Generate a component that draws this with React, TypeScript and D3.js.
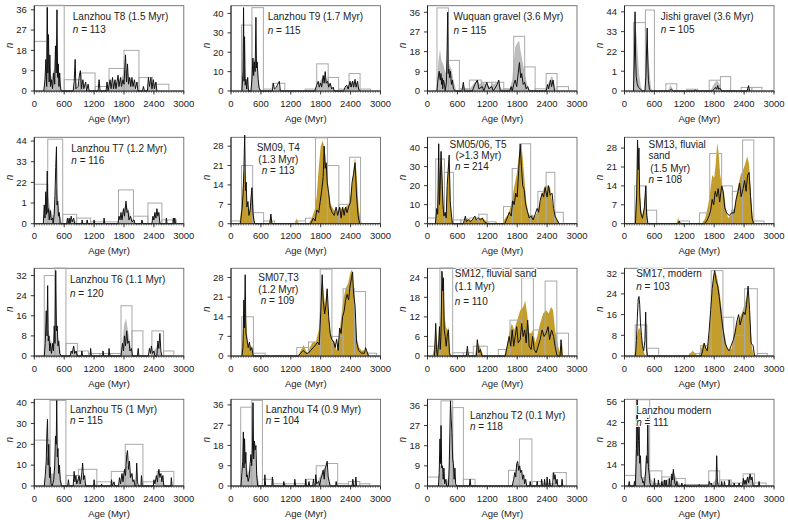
import React from 'react'
import * as d3 from 'd3'

type Pt = [number, number]
type Bin = [number, number, number]

// ---- panel text ----
const panelTitles: string[][] = [
  ['Lanzhou T8 (1.5 Myr)'],
  ['Lanzhou T9 (1.7 Myr)'],
  ['Wuquan gravel (3.6 Myr)'],
  ['Jishi gravel (3.6 Myr)'],
  ['Lanzhou T7 (1.2 Myr)'],
  ['SM09, T4', '(1.3 Myr)'],
  ['SM05/06, T5', '(>1.3 Myr)'],
  ['SM13, fluvial', 'sand', '(1.5 Myr)'],
  ['Lanzhou T6 (1.1 Myr)'],
  ['SM07,T3', '(1.2 Myr)'],
  ['SM12, fluvial sand', '(1.1 Myr)'],
  ['SM17, modern'],
  ['Lanzhou T5 (1 Myr)'],
  ['Lanzhou T4 (0.9 Myr)'],
  ['Lanzhou T2 (0.1 Myr)'],
  ['Lanzhou modern'],
]
const sampleCounts = [113, 115, 115, 105, 116, 113, 214, 108, 120, 109, 110, 103, 115, 104, 118, 111]
const fillKinds = ['grey', 'grey', 'grey', 'grey', 'grey', 'gold', 'gold', 'gold', 'grey', 'gold', 'gold', 'gold', 'grey', 'grey', 'grey', 'grey']

// ---- axes ----
const xTicks = [0, 600, 1200, 1800, 2400, 3000]
const yTickValues: number[][] = [
  [0, 9, 18, 27, 36], [0, 10, 20, 30, 40], [0, 9, 18, 27, 36], [0, 11, 22, 33, 44],
  [0, 11, 22, 33, 44], [0, 7, 14, 21, 28], [0, 10, 20, 30, 40], [0, 7, 14, 21, 28],
  [0, 8, 16, 24, 32], [0, 7, 14, 21, 28], [0, 6, 12, 18, 24], [0, 8, 16, 24, 32],
  [0, 10, 20, 30, 40], [0, 9, 18, 27, 36], [0, 9, 18, 27, 36], [0, 14, 28, 42, 56],
]
const yTickLabels: string[][] = [
  ['0', '9', '18', '27', '36'], ['0', '10', '20', '30', '40'], ['0', '9', '18', '27', '36'], ['0', '1', '22', '33', '44'],
  ['0', '1', '22', '33', '44'], ['0', '7', '14', '21', '28'], ['0', '10', '20', '30', '40'], ['0', '7', '14', '21', '28'],
  ['0', '8', '16', '24', '32'], ['0', '7', '14', '21', '28'], ['0', '6', '12', '18', '24'], ['0', '8', '16', '24', '32'],
  ['0', '10', '20', '30', '40'], ['0', '9', '18', '27', '36'], ['0', '9', '18', '27', '36'], ['0', '14', '28', '42', '56'],
]
const yMaxes = [37.8, 44, 39, 47.4, 46, 31.2, 45.4, 32, 34.9, 31.3, 26.9, 33.9, 41.6, 38.5, 38.7, 57.3]

// ---- histograms [from, to, n] ----
const t8Bins: Bin[] = [[0, 250, 22], [250, 600, 38], [600, 940, 5], [940, 1220, 8], [1220, 1500, 2], [1500, 1800, 10], [1800, 2100, 18], [2100, 2370, 6], [2370, 2700, 3]]
const t9Bins: Bin[] = [[210, 420, 34], [420, 650, 43], [650, 830, 1], [830, 1080, 4], [1490, 1720, 1], [1720, 1950, 14], [1950, 2160, 7], [2160, 2370, 1], [2370, 2590, 9], [2590, 2800, 1]]
const wuquanBins: Bin[] = [[190, 420, 38], [420, 640, 14], [640, 840, 1], [840, 1080, 5], [1080, 1290, 4], [1290, 1530, 4], [1530, 1730, 1], [1730, 1950, 25], [1950, 2160, 11], [2160, 2380, 1], [2380, 2600, 8], [2600, 2830, 2]]
const jishiBins: Bin[] = [[180, 420, 38], [420, 600, 45], [830, 1050, 4], [1250, 1470, 1], [1700, 1925, 6], [1925, 2130, 8], [2340, 2555, 2], [2555, 2760, 2]]
const t7Bins: Bin[] = [[0, 270, 21], [270, 570, 45], [570, 850, 5], [850, 1130, 3], [1130, 1410, 1], [1410, 1690, 1], [1690, 1990, 18], [1990, 2280, 4], [2280, 2560, 11], [2560, 2850, 2]]
const sm09Bins: Bin[] = [[0, 210, 1], [210, 435, 21], [435, 655, 4], [655, 875, 1], [1300, 1495, 1], [1495, 1695, 2], [1695, 1935, 31], [1935, 2165, 21], [2165, 2380, 7], [2380, 2600, 24]]
const sm05Bins: Bin[] = [[0, 165, 3], [165, 340, 34], [340, 520, 27], [520, 670, 2], [670, 845, 2], [845, 1030, 3], [1030, 1195, 5], [1195, 1370, 1], [1525, 1700, 9], [1700, 1885, 29], [1885, 2070, 42], [2070, 2215, 4], [2215, 2380, 17], [2380, 2555, 27], [2555, 2725, 6]]
const sm13Bins: Bin[] = [[205, 440, 14], [440, 645, 5], [1100, 1305, 1], [1505, 1710, 4], [1710, 1950, 26], [1950, 2165, 14], [2165, 2370, 12], [2370, 2595, 31], [2595, 2800, 1]]
const t6Bins: Bin[] = [[200, 415, 32], [415, 635, 35], [635, 865, 5], [865, 1085, 2], [1085, 1320, 1], [1320, 1530, 1], [1530, 1740, 1], [1740, 1960, 20], [1960, 2180, 10], [2360, 2595, 10], [2595, 2800, 2]]
const sm07Bins: Bin[] = [[215, 450, 14], [450, 685, 1], [1320, 1555, 3], [1555, 1790, 5], [1790, 2025, 31], [2025, 2250, 7], [2250, 2475, 24], [2475, 2700, 23], [2700, 2920, 1]]
const sm12Bins: Bin[] = [[0, 250, 3], [250, 505, 27], [505, 720, 1], [720, 920, 1], [920, 1200, 3], [1420, 1655, 2], [1655, 1890, 11], [1890, 2125, 24], [2125, 2360, 8], [2360, 2595, 23], [2595, 2830, 7]]
const sm17Bins: Bin[] = [[215, 450, 12], [450, 685, 3], [1310, 1525, 1], [1525, 1740, 4], [1740, 1975, 33], [1975, 2195, 15], [2195, 2410, 8], [2410, 2665, 26], [2665, 2865, 1]]
const t5Bins: Bin[] = [[0, 315, 22], [315, 635, 41], [635, 885, 5], [885, 1255, 8], [1255, 1545, 2], [1545, 1825, 7], [1825, 2180, 20], [2180, 2465, 2], [2465, 2800, 7]]
const t4Bins: Bin[] = [[195, 415, 35], [415, 630, 38], [630, 850, 3], [850, 1085, 1], [1085, 1290, 1], [1290, 1490, 1], [1490, 1710, 3], [1710, 1910, 9], [1910, 2140, 10], [2140, 2360, 1], [2360, 2585, 2], [2585, 2785, 1]]
const t2Bins: Bin[] = [[0, 270, 4], [270, 505, 38], [505, 720, 35], [720, 955, 3], [1625, 1845, 7], [1845, 2095, 21], [2095, 2315, 2], [2315, 2550, 1], [2550, 2785, 6]]
const modernBins: Bin[] = [[0, 235, 7], [235, 505, 57], [505, 750, 10], [750, 985, 6], [985, 1220, 5], [1220, 1460, 1], [1460, 1690, 1], [1690, 1910, 10], [1910, 2140, 4], [2140, 2380, 2], [2380, 2610, 8], [2610, 2840, 2]]

// ---- density lines [age, n] ----
const t8Line: Pt[] = [[190, 0], [215, 5], [232, 14], [248, 2], [262, 37], [272, 8], [285, 25], [298, 4], [312, 16], [325, 2], [345, 5], [365, 1], [390, 8], [410, 3], [425, 20], [440, 8], [455, 36], [468, 6], [480, 12], [495, 2], [510, 8], [525, 1], [545, 0], [780, 0], [800, 4], [820, 14], [835, 1], [880, 2], [905, 7], [925, 9], [945, 1], [975, 5], [995, 1], [1030, 4], [1050, 0], [1080, 3], [1100, 0], [1280, 0], [1300, 5], [1320, 0], [1440, 0], [1460, 4], [1480, 0], [1520, 5], [1540, 1], [1570, 6], [1590, 1], [1620, 5], [1640, 1], [1680, 7], [1700, 2], [1730, 6], [1750, 2], [1780, 5], [1800, 3], [1830, 16], [1850, 4], [1870, 12], [1890, 3], [1915, 6], [1935, 2], [1960, 6], [1980, 2], [2010, 5], [2030, 1], [2060, 4], [2080, 0], [2170, 0], [2190, 2], [2210, 0], [2270, 0], [2290, 6], [2310, 2], [2340, 6], [2360, 1], [2390, 5], [2410, 1], [2440, 4], [2460, 0]]
const t9Line: Pt[] = [[220, 0], [240, 10], [252, 43], [262, 5], [272, 28], [285, 3], [300, 6], [315, 1], [335, 7], [350, 0], [400, 0], [420, 6], [440, 17], [455, 8], [470, 15], [485, 10], [500, 38], [512, 12], [525, 15], [545, 6], [560, 2], [590, 0], [830, 0], [850, 4], [870, 1], [910, 2], [950, 4], [970, 5], [990, 0], [1680, 0], [1720, 3], [1750, 5], [1770, 2], [1800, 4], [1820, 2], [1850, 8], [1870, 4], [1890, 10], [1910, 4], [1940, 5], [1960, 2], [1990, 4], [2020, 1], [2050, 2], [2070, 0], [2260, 0], [2290, 2], [2320, 3], [2350, 1], [2390, 5], [2410, 2], [2440, 5], [2460, 2], [2490, 6], [2510, 2], [2540, 5], [2560, 1], [2590, 0]]
const wuquanLine: Pt[] = [[190, 0], [205, 4], [220, 7], [235, 9], [248, 6], [258, 5], [270, 8], [282, 3], [295, 6], [305, 1], [320, 5], [340, 3], [355, 0], [380, 4], [395, 20], [405, 36], [415, 8], [430, 10], [445, 6], [460, 9], [480, 3], [500, 5], [520, 1], [560, 0], [690, 0], [720, 4], [740, 0], [900, 0], [950, 3], [1000, 5], [1030, 1], [1100, 2], [1130, 0], [1190, 4], [1230, 1], [1290, 2], [1320, 0], [1400, 3], [1430, 5], [1460, 0], [1650, 0], [1680, 2], [1700, 0], [1730, 3], [1760, 5], [1790, 2], [1820, 8], [1845, 13], [1870, 6], [1890, 8], [1920, 3], [1950, 4], [1980, 1], [2010, 2], [2040, 0], [2380, 0], [2410, 3], [2430, 1], [2470, 5], [2490, 2], [2520, 5], [2550, 0]]
const jishiLine: Pt[] = [[180, 0], [200, 20], [212, 44], [222, 20], [235, 8], [255, 4], [280, 2], [320, 1], [360, 0], [410, 0], [430, 8], [445, 25], [455, 35], [465, 20], [480, 6], [500, 1], [530, 0], [900, 0], [940, 1], [980, 0], [1380, 0], [1420, 0.5], [1460, 0], [1760, 0], [1800, 1], [1830, 2], [1850, 1], [1870, 3], [1890, 1], [1920, 1.5], [1950, 0], [2460, 0], [2490, 3], [2510, 0]]
const t7Line: Pt[] = [[180, 0], [200, 10], [215, 3], [230, 17], [245, 5], [260, 28], [272, 6], [285, 8], [300, 2], [320, 7], [340, 2], [365, 3], [380, 0], [400, 5], [415, 15], [430, 30], [445, 41], [455, 10], [470, 12], [485, 4], [500, 6], [520, 0], [650, 0], [665, 3], [680, 0], [700, 3], [715, 0], [740, 4], [760, 1], [790, 3], [810, 0], [950, 0], [960, 2], [975, 0], [1050, 0], [1060, 2], [1075, 0], [1190, 0], [1200, 2], [1215, 0], [1390, 0], [1400, 3], [1415, 0], [1680, 0], [1700, 4], [1720, 2], [1740, 6], [1760, 2], [1790, 8], [1810, 4], [1840, 12], [1860, 6], [1880, 7], [1900, 2], [1930, 4], [1960, 1], [2000, 2], [2020, 0], [2150, 0], [2160, 2], [2180, 0], [2360, 0], [2380, 4], [2400, 2], [2420, 6], [2440, 3], [2460, 8], [2480, 4], [2500, 6], [2520, 0], [2640, 0], [2650, 3], [2665, 0], [2780, 0], [2790, 3], [2805, 0], [2820, 3], [2835, 0]]
const sm09Line: Pt[] = [[190, 0], [220, 5], [240, 10], [258, 19], [275, 32], [290, 12], [305, 15], [320, 6], [340, 8], [360, 3], [385, 5], [405, 10], [420, 13], [440, 4], [460, 1], [480, 0], [780, 0], [800, 3.5], [820, 0], [1600, 0], [1650, 2], [1690, 1], [1720, 5], [1760, 4], [1790, 8], [1820, 12], [1850, 17], [1870, 28], [1890, 20], [1910, 22], [1930, 15], [1960, 11], [1990, 6], [2030, 4], [2070, 3], [2110, 6], [2140, 3], [2180, 6], [2210, 2], [2240, 6], [2270, 3], [2300, 6], [2330, 4], [2360, 6], [2400, 8], [2430, 15], [2460, 18], [2490, 22], [2520, 10], [2550, 3], [2580, 0]]
const sm05Line: Pt[] = [[160, 0], [185, 8], [205, 5], [225, 42], [240, 10], [255, 20], [272, 38], [290, 25], [310, 10], [330, 4], [355, 6], [375, 3], [395, 20], [415, 28], [435, 36], [455, 12], [475, 6], [500, 0], [720, 0], [760, 4], [780, 1], [820, 2], [860, 1], [900, 2], [950, 4], [980, 2], [1020, 3], [1060, 2], [1100, 3], [1140, 1], [1200, 0], [1550, 0], [1600, 3], [1640, 6], [1680, 4], [1710, 12], [1740, 10], [1770, 16], [1800, 14], [1830, 28], [1860, 42], [1885, 30], [1910, 20], [1940, 18], [1970, 10], [2000, 7], [2040, 3], [2080, 4], [2120, 2], [2160, 5], [2200, 8], [2230, 6], [2260, 12], [2300, 16], [2330, 14], [2360, 19], [2400, 14], [2430, 20], [2460, 15], [2500, 16], [2530, 8], [2560, 4], [2600, 2], [2640, 0]]
const sm13Line: Pt[] = [[220, 0], [245, 11], [262, 31], [275, 20], [290, 28], [305, 10], [325, 4], [360, 2], [400, 6], [425, 14], [445, 3], [470, 0], [1080, 0], [1100, 1], [1120, 0], [1600, 0], [1650, 1], [1700, 3], [1730, 5], [1760, 9], [1790, 7], [1820, 12], [1850, 10], [1880, 13], [1910, 8], [1950, 14], [1980, 12], [2010, 6], [2050, 4], [2100, 3], [2150, 4], [2200, 4], [2240, 9], [2280, 12], [2310, 15], [2340, 10], [2380, 13], [2410, 16], [2440, 12], [2470, 18], [2500, 19], [2530, 10], [2560, 2], [2590, 0]]
const t6Line: Pt[] = [[200, 0], [220, 5], [240, 18], [255, 8], [268, 28], [280, 6], [295, 8], [310, 2], [325, 5], [345, 1], [370, 5], [385, 2], [400, 12], [415, 5], [430, 34], [445, 10], [460, 12], [475, 4], [490, 6], [510, 1], [540, 0], [720, 0], [740, 2], [760, 1], [790, 4], [810, 1], [840, 2], [860, 0], [940, 0], [955, 2], [970, 0], [1120, 0], [1130, 3], [1145, 0], [1370, 0], [1380, 2], [1395, 0], [1490, 0], [1500, 3], [1515, 0], [1740, 0], [1770, 5], [1790, 2], [1810, 8], [1830, 4], [1855, 10], [1875, 5], [1900, 6], [1920, 2], [1950, 3], [1970, 0], [2070, 0], [2085, 3], [2100, 0], [2290, 0], [2310, 3], [2330, 1], [2350, 4], [2370, 1], [2400, 2], [2420, 0], [2460, 0], [2480, 6], [2500, 3], [2520, 9], [2540, 2], [2560, 0]]
const sm07Line: Pt[] = [[220, 0], [240, 3], [258, 20], [270, 10], [285, 29], [300, 8], [320, 6], [345, 3], [370, 5], [390, 2], [420, 3], [445, 0], [1350, 0], [1400, 1], [1450, 2], [1500, 1], [1550, 1], [1600, 2], [1650, 3], [1700, 4], [1740, 5], [1770, 4], [1800, 15], [1830, 29], [1850, 20], [1880, 15], [1905, 18], [1930, 24], [1960, 14], [1990, 8], [2020, 6], [2060, 5], [2090, 3], [2120, 6], [2150, 2], [2180, 10], [2210, 8], [2240, 14], [2270, 16], [2300, 20], [2330, 22], [2360, 20], [2390, 25], [2420, 28], [2440, 30], [2460, 22], [2490, 18], [2520, 5], [2560, 2], [2620, 1], [2680, 1], [2700, 3], [2720, 2], [2760, 0]]
const sm12Line: Pt[] = [[140, 0], [165, 10], [180, 2], [200, 0], [225, 4], [240, 9], [255, 2], [270, 6], [290, 26], [305, 20], [320, 24], [335, 8], [355, 6], [375, 3], [395, 6], [420, 8], [440, 1], [460, 0], [780, 0], [800, 3], [820, 0], [980, 0], [1000, 5], [1030, 1], [1060, 2], [1090, 0], [1560, 0], [1600, 3], [1640, 6], [1670, 3], [1700, 8], [1730, 3], [1760, 6], [1790, 9], [1820, 4], [1860, 5], [1890, 10], [1920, 6], [1950, 8], [1980, 4], [2010, 11], [2040, 3], [2080, 2], [2110, 6], [2140, 2], [2180, 1], [2220, 3], [2260, 5], [2300, 8], [2340, 6], [2380, 7], [2420, 9], [2450, 5], [2490, 8], [2530, 6], [2560, 3], [2600, 0], [2660, 0], [2680, 5], [2700, 0]]
const sm17Line: Pt[] = [[220, 0], [240, 6], [258, 15], [275, 22], [290, 23], [305, 20], [320, 13], [340, 8], [360, 4], [385, 2], [410, 6], [425, 17], [440, 3], [460, 0], [1540, 0], [1580, 3], [1600, 5], [1630, 3], [1660, 2], [1700, 10], [1730, 18], [1760, 26], [1790, 31], [1810, 33], [1840, 29], [1870, 27], [1900, 23], [1940, 16], [1980, 10], [2020, 5], [2060, 3], [2100, 2], [2140, 4], [2180, 6], [2220, 9], [2250, 13], [2290, 16], [2320, 12], [2360, 15], [2390, 17], [2420, 16], [2450, 20], [2480, 27], [2510, 18], [2540, 5], [2580, 4], [2610, 0]]
const t5Line: Pt[] = [[200, 0], [220, 5], [240, 12], [252, 25], [265, 32], [278, 10], [290, 20], [305, 4], [320, 9], [335, 1], [360, 0], [390, 3], [410, 10], [425, 24], [440, 20], [450, 41], [462, 14], [475, 18], [490, 6], [505, 10], [520, 3], [545, 0], [670, 0], [685, 3], [700, 0], [780, 0], [800, 7], [815, 2], [835, 5], [850, 1], [880, 3], [900, 5], [920, 1], [945, 4], [970, 11], [990, 3], [1010, 5], [1030, 0], [1190, 0], [1200, 3], [1215, 0], [1340, 0], [1350, 1], [1365, 0], [1540, 0], [1550, 3], [1565, 0], [1600, 2], [1615, 0], [1690, 0], [1710, 4], [1730, 1], [1760, 6], [1780, 2], [1810, 8], [1830, 5], [1855, 15], [1870, 17], [1890, 8], [1910, 12], [1930, 4], [1960, 6], [1980, 2], [2000, 3], [2020, 0], [2040, 0], [2055, 11], [2070, 2], [2090, 0], [2140, 0], [2150, 5], [2165, 0], [2390, 0], [2400, 3], [2420, 1], [2450, 5], [2470, 2], [2500, 8], [2520, 4], [2540, 6], [2560, 2], [2580, 5], [2600, 0], [2740, 0], [2750, 4], [2765, 0]]
const t4Line: Pt[] = [[200, 0], [220, 6], [235, 11], [248, 24], [260, 8], [272, 21], [285, 10], [298, 15], [310, 4], [325, 5], [345, 2], [365, 4], [385, 10], [400, 14], [415, 9], [430, 16], [442, 37], [455, 12], [470, 20], [485, 16], [500, 18], [515, 5], [535, 0], [670, 0], [680, 5], [695, 0], [820, 0], [830, 4], [845, 0], [1050, 0], [1060, 2], [1075, 0], [1270, 0], [1280, 3], [1295, 0], [1490, 0], [1500, 3], [1515, 0], [1550, 0], [1565, 2], [1580, 0], [1640, 0], [1655, 3], [1670, 0], [1690, 0], [1700, 5], [1720, 1], [1760, 2], [1780, 0], [1800, 3], [1830, 5], [1850, 7], [1870, 3], [1890, 8], [1910, 9], [1930, 11], [1950, 4], [1970, 2], [1990, 0], [2100, 0], [2110, 2], [2125, 0], [2430, 0], [2445, 3], [2460, 0], [2490, 0], [2505, 4], [2520, 0]]
const t2Line: Pt[] = [[220, 0], [235, 6], [250, 21], [262, 10], [272, 27], [285, 8], [300, 9], [315, 3], [330, 8], [345, 1], [370, 3], [385, 0], [420, 0], [435, 8], [450, 25], [462, 38], [475, 30], [490, 24], [505, 12], [520, 10], [535, 3], [550, 8], [565, 1], [585, 0], [840, 0], [855, 3], [870, 0], [1700, 0], [1730, 3], [1750, 6], [1770, 4], [1790, 10], [1810, 11], [1830, 7], [1850, 9], [1870, 6], [1890, 7], [1910, 3], [1930, 5], [1950, 1], [1970, 3], [1990, 0], [2050, 0], [2060, 2], [2075, 0], [2190, 0], [2200, 2], [2215, 0], [2280, 0], [2290, 3], [2305, 0], [2340, 0], [2350, 3], [2365, 0], [2390, 0], [2400, 4], [2415, 0], [2440, 0], [2450, 3], [2465, 0], [2510, 0], [2525, 6], [2540, 3], [2560, 5], [2580, 1], [2600, 3], [2615, 0], [2690, 0], [2700, 3], [2715, 0]]
const modernLine: Pt[] = [[80, 0], [95, 3], [110, 0], [190, 0], [200, 3], [215, 0], [225, 8], [240, 25], [255, 57], [268, 20], [280, 30], [292, 44], [305, 15], [320, 20], [335, 6], [350, 5], [370, 2], [385, 3], [400, 0], [410, 4], [425, 10], [440, 20], [455, 15], [468, 45], [480, 12], [495, 8], [510, 2], [530, 0], [590, 0], [600, 5], [615, 0], [670, 0], [680, 4], [695, 0], [740, 0], [750, 3], [765, 0], [790, 0], [800, 4], [815, 0], [825, 0], [835, 4], [850, 0], [890, 0], [900, 5], [915, 0], [935, 0], [950, 8], [965, 4], [980, 11], [995, 6], [1010, 2], [1030, 0], [1050, 3], [1065, 0], [1140, 0], [1150, 2], [1165, 0], [1200, 0], [1210, 1], [1225, 0], [1490, 0], [1500, 1], [1515, 0], [1690, 0], [1700, 3], [1720, 1], [1740, 2], [1755, 0], [1835, 0], [1850, 20], [1865, 3], [1880, 0], [1940, 0], [1950, 3], [1965, 0], [1995, 0], [2005, 3], [2020, 0], [2090, 0], [2100, 4], [2115, 0], [2190, 0], [2200, 2], [2215, 0], [2290, 0], [2300, 2], [2315, 0], [2370, 0], [2385, 5], [2400, 1], [2420, 4], [2440, 1], [2470, 6], [2490, 2], [2520, 8], [2540, 4], [2560, 6], [2580, 0], [2690, 0], [2700, 3], [2715, 0]]

// ---- shaded densities [age, n] ----
const t8Fill: Pt[] = [[190, 0], [240, 14], [270, 22], [300, 14], [340, 6], [400, 10], [440, 22], [480, 12], [530, 3], [560, 0], [790, 0], [830, 6], [870, 1], [920, 5], [960, 3], [1000, 1], [1040, 0], [1500, 0], [1560, 3], [1700, 4], [1800, 8], [1850, 10], [1900, 6], [2000, 3], [2070, 0], [2260, 0], [2320, 4], [2420, 3], [2470, 0]]
const t9Fill: Pt[] = [[220, 0], [250, 12], [280, 8], [320, 4], [360, 0], [410, 0], [440, 14], [480, 17], [520, 12], [560, 4], [600, 0], [840, 0], [950, 3], [1000, 0], [1690, 0], [1760, 4], [1860, 8], [1920, 6], [1990, 3], [2070, 0], [2260, 0], [2350, 3], [2450, 5], [2530, 4], [2600, 0]]
const wuquanFill: Pt[] = [[180, 0], [220, 14], [250, 19], [280, 14], [320, 12], [360, 8], [400, 15], [440, 12], [480, 10], [530, 4], [580, 0], [690, 0], [720, 3], [760, 1], [850, 1], [950, 4], [1000, 5], [1050, 3], [1100, 4], [1200, 3], [1250, 2], [1300, 3], [1420, 4], [1480, 1], [1650, 1], [1700, 5], [1760, 20], [1800, 22], [1840, 23], [1870, 18], [1920, 12], [1960, 7], [2000, 3], [2060, 0], [2380, 0], [2430, 4], [2500, 7], [2540, 4], [2580, 0]]
const jishiFill: Pt[] = [[170, 0], [200, 30], [225, 36], [250, 28], [290, 10], [330, 2], [380, 0], [410, 0], [440, 20], [460, 30], [490, 15], [530, 2], [560, 0], [870, 0], [920, 3.5], [970, 1], [1010, 0], [1720, 0], [1800, 4], [1850, 6], [1900, 4], [1960, 0], [2440, 0], [2490, 1.5], [2540, 0]]
const t7Fill: Pt[] = [[180, 0], [230, 12], [270, 16], [320, 8], [380, 4], [430, 20], [460, 18], [500, 6], [560, 0], [650, 0], [720, 2], [800, 2], [850, 0], [1690, 0], [1760, 6], [1830, 10], [1880, 8], [1950, 3], [2020, 0], [2360, 0], [2440, 6], [2500, 4], [2540, 0]]
const sm09Fill: Pt[] = [[170, 0], [210, 6], [240, 14], [265, 20], [290, 16], [320, 8], [350, 4], [380, 5], [410, 12], [430, 14], [455, 4], [480, 0], [760, 0], [800, 3], [840, 0], [1280, 0], [1320, 2], [1360, 0], [1560, 0], [1620, 2], [1680, 5], [1720, 10], [1760, 20], [1800, 28], [1840, 30], [1880, 27], [1920, 20], [1960, 12], [2000, 7], [2060, 5], [2120, 4], [2180, 6], [2240, 5], [2300, 6], [2360, 7], [2420, 12], [2460, 20], [2490, 24], [2520, 18], [2560, 6], [2600, 1], [2640, 0]]
const sm05Fill: Pt[] = [[150, 0], [190, 8], [220, 22], [250, 30], [270, 38], [295, 28], [320, 12], [345, 5], [370, 5], [395, 18], [420, 34], [445, 25], [470, 8], [500, 1], [530, 0], [700, 0], [760, 2], [800, 3], [850, 2], [900, 2], [950, 3], [1000, 2], [1050, 3], [1100, 3], [1150, 2], [1200, 1], [1260, 0], [1340, 0], [1380, 1], [1420, 0], [1500, 0], [1560, 3], [1620, 5], [1680, 10], [1730, 18], [1790, 26], [1830, 35], [1860, 40], [1900, 38], [1940, 25], [1980, 12], [2020, 6], [2060, 4], [2100, 5], [2140, 3], [2200, 6], [2250, 10], [2300, 16], [2360, 20], [2420, 20], [2460, 19], [2500, 12], [2540, 6], [2600, 2], [2660, 0]]
const sm13Fill: Pt[] = [[200, 0], [230, 10], [255, 22], [270, 30], [290, 24], [310, 12], [335, 5], [370, 3], [410, 10], [430, 14], [450, 6], [475, 0], [1040, 0], [1080, 2], [1120, 0], [1550, 0], [1620, 2], [1680, 7], [1720, 12], [1760, 18], [1800, 17], [1830, 22], [1860, 30], [1890, 26], [1920, 18], [1960, 14], [2000, 11], [2040, 5], [2080, 2], [2120, 3], [2160, 6], [2200, 5], [2240, 10], [2280, 14], [2330, 18], [2380, 20], [2420, 22], [2460, 25], [2500, 22], [2540, 10], [2570, 3], [2600, 0]]
const t6Fill: Pt[] = [[200, 0], [240, 8], [280, 10], [330, 6], [380, 5], [430, 13], [480, 7], [540, 0], [720, 0], [800, 3], [860, 0], [1740, 0], [1800, 12], [1840, 15], [1880, 10], [1940, 3], [1980, 0], [2300, 0], [2400, 2], [2500, 5], [2560, 0]]
const sm07Fill: Pt[] = [[200, 0], [230, 5], [255, 15], [275, 21], [300, 14], [330, 6], [360, 3], [400, 4], [430, 2], [470, 0], [1340, 0], [1400, 2], [1460, 4], [1500, 2], [1540, 1], [1580, 3], [1640, 5], [1700, 5], [1760, 9], [1800, 20], [1830, 28], [1860, 22], [1890, 18], [1920, 24], [1960, 14], [2000, 8], [2040, 6], [2080, 5], [2120, 2], [2160, 5], [2200, 12], [2250, 20], [2300, 24], [2350, 26], [2400, 30], [2430, 31], [2460, 25], [2500, 12], [2530, 6], [2570, 3], [2620, 2], [2680, 2], [2700, 3], [2740, 1], [2780, 0]]
const sm12Fill: Pt[] = [[100, 0], [140, 3], [170, 9], [190, 5], [210, 2], [240, 8], [265, 12], [290, 22], [305, 26], [325, 20], [345, 12], [370, 9], [400, 8], [420, 9], [440, 4], [460, 0], [760, 0], [800, 2], [840, 0], [950, 0], [1000, 4], [1050, 3], [1100, 1], [1130, 0], [1540, 0], [1590, 3], [1640, 7], [1690, 10], [1740, 8], [1800, 11], [1860, 14], [1920, 15], [1960, 17], [2000, 13], [2040, 7], [2080, 7], [2120, 8], [2160, 4], [2200, 6], [2260, 10], [2320, 13], [2380, 14], [2430, 13], [2480, 15], [2520, 14], [2560, 8], [2620, 3], [2660, 1], [2700, 4], [2720, 0]]
const sm17Fill: Pt[] = [[190, 0], [230, 3], [260, 9], [290, 11], [320, 10], [350, 6], [380, 2], [420, 0], [1260, 0], [1320, 1], [1370, 2], [1420, 1], [1480, 0], [1520, 2], [1580, 5], [1620, 4], [1660, 2], [1700, 8], [1740, 20], [1780, 30], [1810, 33], [1850, 31], [1900, 26], [1950, 18], [2000, 9], [2050, 4], [2100, 2], [2150, 3], [2200, 9], [2260, 13], [2320, 15], [2380, 18], [2440, 22], [2480, 25], [2520, 14], [2560, 3], [2600, 0]]
const t5Fill: Pt[] = [[200, 0], [250, 15], [290, 12], [340, 6], [390, 6], [430, 25], [470, 16], [520, 6], [560, 0], [780, 0], [850, 3], [960, 5], [1020, 2], [1060, 0], [1690, 0], [1800, 7], [1860, 10], [1920, 8], [1980, 3], [2020, 0], [2400, 0], [2500, 4], [2580, 2], [2620, 0]]
const t4Fill: Pt[] = [[195, 0], [250, 15], [290, 12], [340, 6], [390, 8], [430, 18], [480, 16], [530, 5], [570, 0], [1690, 0], [1780, 4], [1860, 8], [1920, 7], [1980, 2], [2010, 0]]
const t2Fill: Pt[] = [[215, 0], [250, 10], [290, 6], [330, 4], [380, 1], [420, 4], [450, 20], [470, 30], [500, 20], [540, 6], [580, 0], [1690, 0], [1760, 6], [1800, 10], [1850, 8], [1920, 4], [1980, 0], [2500, 0], [2560, 3], [2620, 0]]
const modernFill: Pt[] = [[200, 0], [250, 25], [290, 20], [340, 6], [400, 6], [450, 20], [480, 15], [530, 5], [580, 2], [700, 2], [900, 5], [980, 10], [1050, 4], [1120, 1], [1200, 0], [1700, 0], [1800, 3], [1850, 5], [1900, 2], [1950, 0], [2380, 0], [2450, 5], [2520, 7], [2580, 3], [2620, 0]]

const panelBins = [t8Bins, t9Bins, wuquanBins, jishiBins, t7Bins, sm09Bins, sm05Bins, sm13Bins, t6Bins, sm07Bins, sm12Bins, sm17Bins, t5Bins, t4Bins, t2Bins, modernBins]
const panelLines = [t8Line, t9Line, wuquanLine, jishiLine, t7Line, sm09Line, sm05Line, sm13Line, t6Line, sm07Line, sm12Line, sm17Line, t5Line, t4Line, t2Line, modernLine]
const panelFills = [t8Fill, t9Fill, wuquanFill, jishiFill, t7Fill, sm09Fill, sm05Fill, sm13Fill, t6Fill, sm07Fill, sm12Fill, sm17Fill, t5Fill, t4Fill, t2Fill, modernFill]

// ---- layout ----
const W = 788
const H = 520
const colX = [34.3, 231, 427.5, 624.5]
const plotW = 149.5
const rowTop = [5.7, 137.3, 268.3, 399.3]
const rowBottom = [91, 223.7, 356, 486]
// [dx, baseline dy] for each title line, the last one is the n line
const titleOffsets: number[][][] = [
  [[38.5, 14], [38.5, 27.5]],
  [[36.7, 14.6], [36.7, 28]],
  [[26, 14], [26, 28]],
  [[36.3, 14], [36.3, 27.5]],
  [[37, 14.7], [37, 27]],
  [[25.7, 14], [27.3, 25.4], [30.7, 37]],
  [[22, 10.4], [28, 22], [27.6, 32.9]],
  [[24, 10.2], [24, 21.2], [25.7, 34.6], [24, 45.9]],
  [[35.7, 14.7], [35.7, 28.7]],
  [[27.3, 13], [27.3, 24.4], [29.7, 36]],
  [[27.3, 8.7], [27.3, 22], [27.3, 36.4]],
  [[11.7, 8.7], [11.7, 22]],
  [[35.7, 13.4], [35.7, 24.6]],
  [[34.7, 13.6], [34.7, 24.8]],
  [[42.4, 19.4], [42.4, 30.6]],
  [[11.7, 14.4], [11.7, 26.7]],
]

const GOLD = '#c49e2c'
const GREY = '#bcbcbc'
const FONT = '"Liberation Sans", Arial, Helvetica, sans-serif'

const Panel: React.FC<{ i: number }> = ({ i }) => {
  const col = i % 4
  const row = Math.floor(i / 4)
  const left = colX[col]
  const top = rowTop[row]
  const bottom = rowBottom[row]

  const x = d3.scaleLinear().domain([0, 3000]).range([left, left + plotW])
  const y = d3.scaleLinear().domain([0, yMaxes[i]]).range([bottom, top])

  const line = d3.line<Pt>().x(d => x(d[0])).y(d => y(d[1]))
  const area = d3
    .area<Pt>()
    .x(d => x(d[0]))
    .y0(y(0))
    .y1(d => y(d[1]))

  const minor = d3.range(0, 3001, 50)
  const offs = titleOffsets[i]
  const titles = panelTitles[i]
  const nOff = offs[offs.length - 1]
  // white halo keeps the sample label readable where spikes cross it
  const halo = { stroke: '#fff', strokeWidth: 2.2, paintOrder: 'stroke' as const, strokeLinejoin: 'round' as const }

  return (
    <g>
      {/* frame */}
      <rect x={left} y={top} width={plotW} height={bottom - top} fill="none" stroke="#6b6b6b" strokeWidth={0.9} />

      {/* shaded density */}
      <path d={area(panelFills[i]) ?? ''} fill={fillKinds[i] === 'gold' ? GOLD : GREY} stroke="none" />

      {/* histogram */}
      {panelBins[i].map((b, k) => (
        <rect
          key={k}
          x={x(b[0])}
          y={y(b[2])}
          width={x(b[1]) - x(b[0])}
          height={y(0) - y(b[2])}
          fill="none"
          stroke="#a9a9a9"
          strokeWidth={1}
        />
      ))}

      {/* density line */}
      <path d={line(panelLines[i]) ?? ''} fill="none" stroke="#111" strokeWidth={1} strokeLinejoin="round" />

      {/* axes */}
      <line x1={left} x2={left} y1={top} y2={bottom} stroke="#222" strokeWidth={1} />
      <line x1={left} x2={left + plotW} y1={bottom} y2={bottom} stroke="#222" strokeWidth={1} />
      {minor.map(m => (
        <line key={m} x1={x(m)} x2={x(m)} y1={bottom} y2={bottom + 1.8} stroke="#333" strokeWidth={0.6} />
      ))}
      {xTicks.map(t => (
        <g key={t}>
          <line x1={x(t)} x2={x(t)} y1={bottom} y2={bottom + 3.5} stroke="#222" strokeWidth={0.9} />
          <text x={x(t)} y={bottom + 15.5} textAnchor="middle" fontSize={9.5} fill="#222">
            {t}
          </text>
        </g>
      ))}
      {yTickValues[i].map((t, k) => (
        <g key={t}>
          <line x1={left - 3.5} x2={left} y1={y(t)} y2={y(t)} stroke="#222" strokeWidth={0.9} />
          <text x={left - 7.5} y={y(t)} dy="0.35em" textAnchor="end" fontSize={9.5} fill="#222">
            {yTickLabels[i][k]}
          </text>
        </g>
      ))}
      <text x={left + plotW / 2} y={bottom + 30.5} textAnchor="middle" fontSize={9.5} fill="#222">
        Age (Myr)
      </text>
      <text
        transform={`translate(${left - 25},${(top + bottom) / 2 - 3}) rotate(-90)`}
        textAnchor="middle"
        dy="0.35em"
        fontSize={10}
        fontStyle="italic"
        fill="#222"
      >
        n
      </text>

      {/* title */}
      {titles.map((t, k) => (
        <text key={k} x={left + offs[k][0]} y={top + offs[k][1]} fontSize={10} fill="#222" {...halo}>
          {t}
        </text>
      ))}
      <text x={left + nOff[0]} y={top + nOff[1]} fontSize={10} fill="#222" {...halo}>
        <tspan fontStyle="italic">n</tspan> = {sampleCounts[i]}
      </text>
    </g>
  )
}

export default function App() {
  return (
    <svg
      width={W}
      height={H}
      viewBox={`0 0 ${W} ${H}`}
      style={{ position: 'absolute', left: 0, top: 0, background: '#fff', fontFamily: FONT }}
    >
      <rect width={W} height={H} fill="#fff" />
      {d3.range(16).map(i => (
        <Panel key={i} i={i} />
      ))}
    </svg>
  )
}
